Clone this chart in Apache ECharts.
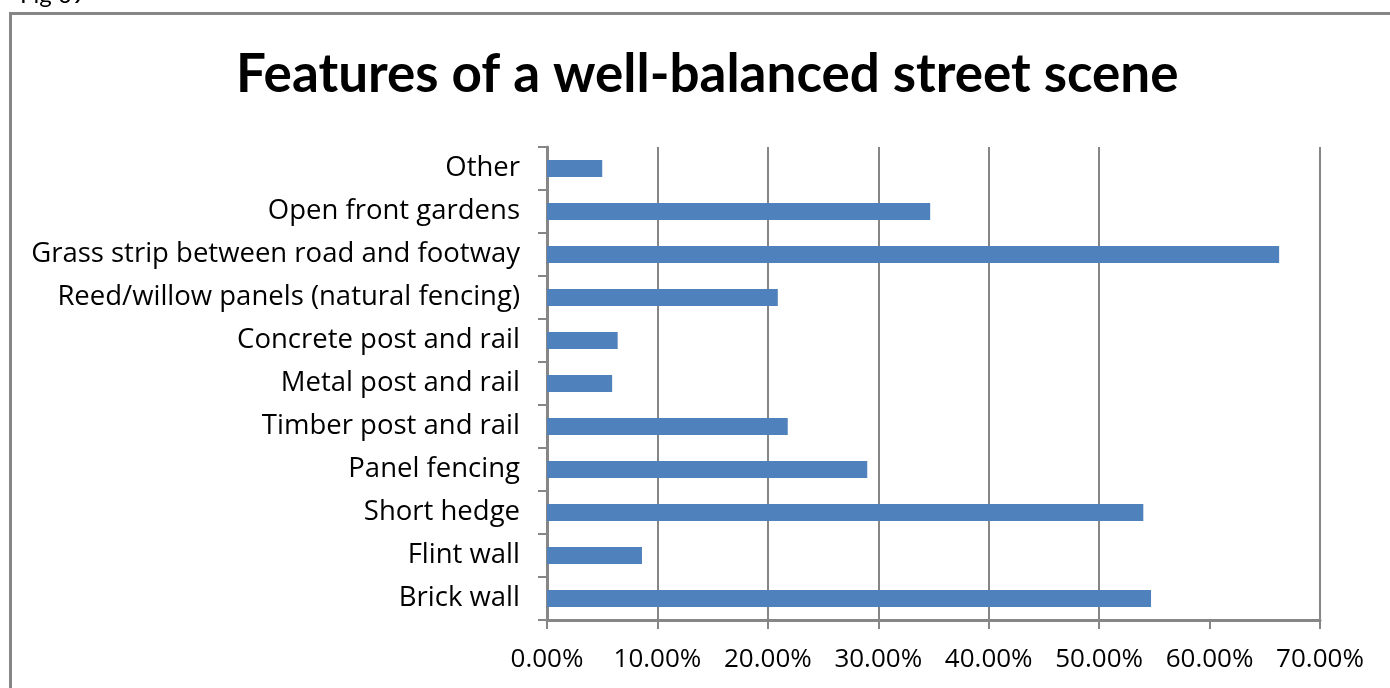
<!DOCTYPE html>
<html>
<head>
<meta charset="utf-8">
<title>Features of a well-balanced street scene</title>
<script src="https://cdn.jsdelivr.net/npm/echarts@6/dist/echarts.min.js"></script>
<style>
  html, body { margin: 0; padding: 0; background: #fff; }
  #main { width: 1390px; height: 688px; }
</style>
</head>
<body>
<div id="main"></div>
<script>
// categories bottom -> top (category axis on y starts at the bottom)
const categories = [
  'Brick wall',
  'Flint wall',
  'Short hedge',
  'Panel fencing',
  'Timber post and rail',
  'Metal post and rail',
  'Concrete post and rail',
  'Reed/willow panels (natural fencing)',
  'Grass strip between road and footway',
  'Open front gardens',
  'Other'
];
const percentValues = [54.7, 8.6, 54.0, 29.0, 21.8, 5.9, 6.4, 20.9, 66.3, 34.7, 5.0];
const xTicks = [0, 10, 20, 30, 40, 50, 60, 70];

const gray = '#868686';
// the 60% gridline is not drawn in the original
const gridColors = xTicks.map(t => (t === 60 ? 'rgba(0,0,0,0)' : gray));

const myChart = echarts.init(document.getElementById('main'));
myChart.setOption({
  animation: false,
  title: {
    text: 'Features of a well-balanced street scene',
    left: 231,
    top: 43,
    textStyle: {
      fontFamily: 'Lato',
      fontWeight: 'bold',
      fontSize: 53,
      color: '#000'
    }
  },
  graphic: [
    {
      type: 'rect',
      shape: { x: 10.5, y: 13.5, width: 1500, height: 800 },
      style: { fill: 'none', stroke: gray, lineWidth: 3 }
    },
    {
      type: 'text',
      left: 20,
      top: -17,
      style: { text: 'Fig 09', font: '24px Lato', fill: '#000' }
    }
  ],
  grid: {
    left: 547,
    right: 70,
    top: 147,
    bottom: 68
  },
  xAxis: {
    type: 'value',
    min: 0,
    max: 70,
    interval: 10,
    axisLine: { show: true, lineStyle: { color: gray, width: 3 } },
    axisTick: { show: true, length: 9, lineStyle: { color: gray, width: 2 } },
    splitLine: { show: true, lineStyle: { color: gridColors, width: 2 } },
    axisLabel: {
      margin: 27,
      fontFamily: 'Open Sans',
      fontSize: 26,
      color: '#000',
      formatter: v => v.toFixed(2) + '%'
    }
  },
  yAxis: {
    type: 'category',
    data: categories,
    axisLine: { show: true, lineStyle: { color: gray, width: 3 } },
    axisTick: { show: true, length: 9, lineStyle: { color: gray, width: 2 } },
    axisLabel: {
      margin: 27,
      padding: [5, 0, 0, 0],
      fontFamily: 'Open Sans',
      fontSize: 27.5,
      color: '#000'
    }
  },
  series: [
    {
      type: 'bar',
      data: percentValues,
      barCategoryGap: '60%',
      itemStyle: { color: '#4F81BD' }
    }
  ]
});
</script>
</body>
</html>
